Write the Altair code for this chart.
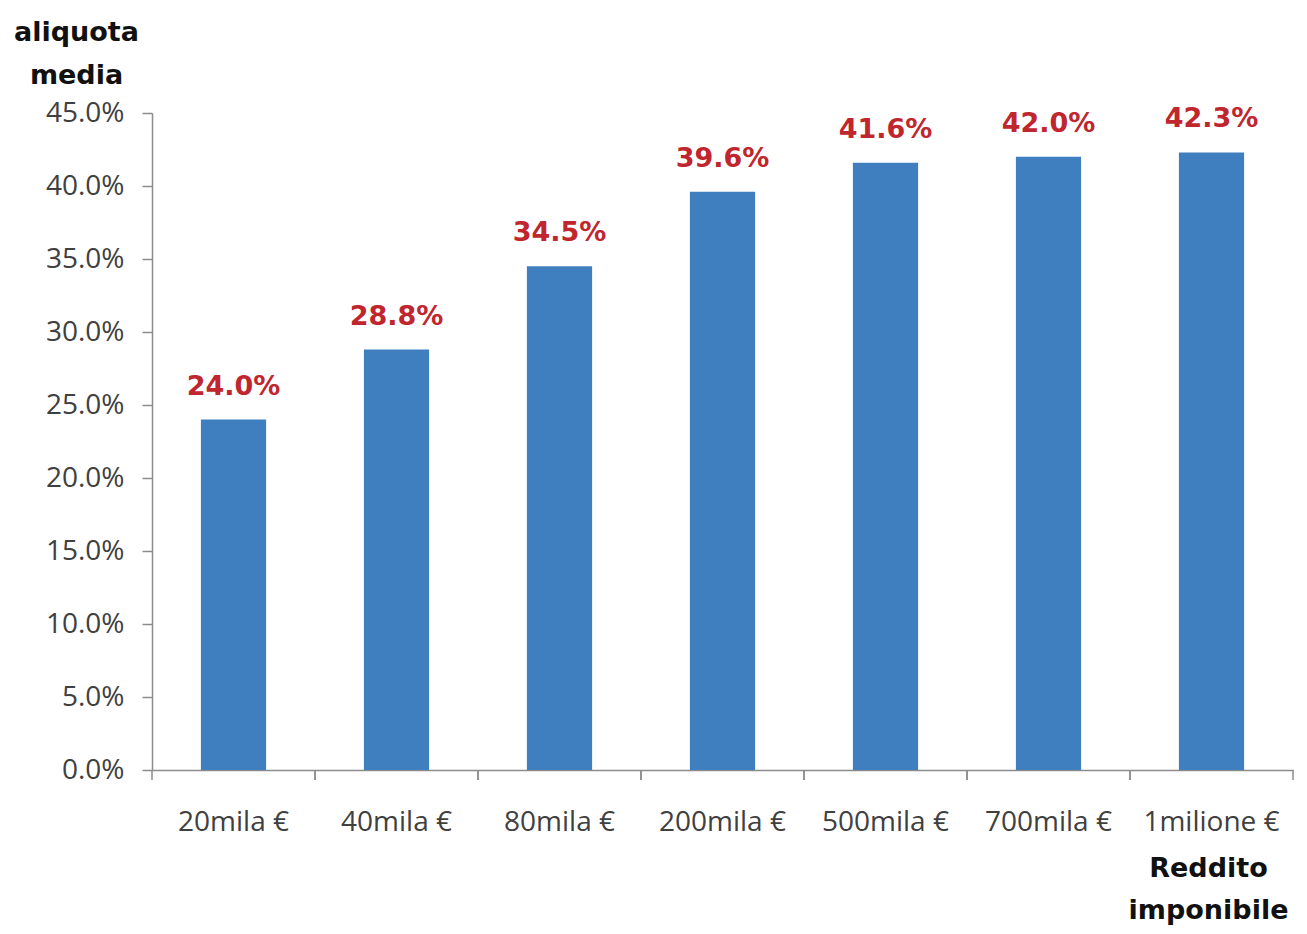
import altair as alt
import pandas as pd

categories = ["20mila €", "40mila €", "80mila €", "200mila €", "500mila €", "700mila €", "1milione €"]
values = [24.0, 28.8, 34.5, 39.6, 41.6, 42.0, 42.3]

df = pd.DataFrame({"cat": categories, "val": values})
df["lbl"] = [f"{v:.1f}%" for v in values]

W, H = 1141, 657
LFONT = "Open Sans"
BFONT = "DejaVu Sans"
GRAY = "#8c8c8c"

xenc = alt.X("cat:N", sort=categories,
             scale=alt.Scale(paddingInner=0.6, paddingOuter=0.3),
             axis=alt.Axis(title=["Reddito", "imponibile"], ticks=False,
                           labelAngle=0, labelFontSize=28, labelColor="#404040",
                           labelFont=LFONT, labelPadding=38,
                           domainColor=GRAY, domainWidth=1.5,
                           titleFont=BFONT, titleFontSize=27, titleFontWeight="bold",
                           titleColor="#111111", titleAngle=0, titleAlign="center",
                           titleBaseline="alphabetic", titleX=1056, titleY=106,
                           titleLineHeight=42))
yenc = alt.Y("val:Q", scale=alt.Scale(domain=[0, 45]),
             axis=alt.Axis(title=["aliquota", "media"], values=list(range(0, 50, 5)),
                           labelExpr="format(datum.value, '.1f') + '%'",
                           grid=False, tickSize=10, tickColor=GRAY,
                           domainColor=GRAY, domainWidth=1.5, tickWidth=1.5,
                           labelFontSize=28, labelColor="#404040", labelFont=LFONT,
                           labelPadding=18,
                           titleFont=BFONT, titleFontSize=27, titleFontWeight="bold",
                           titleColor="#111111", titleAngle=0, titleAlign="center",
                           titleBaseline="alphabetic", titleX=-76, titleY=-73,
                           titleLineHeight=43))

bars = alt.Chart(df).mark_bar(color="#3f7fc0").encode(x=xenc, y=yenc)

text = alt.Chart(df).mark_text(color="#c0262d", fontSize=27, fontWeight="bold",
                               font=BFONT, baseline="alphabetic", dy=-25).encode(
    x=alt.X("cat:N", sort=categories), y="val:Q", text="lbl:N")

tick_scale = alt.Scale(paddingInner=0, paddingOuter=0)
ticks0 = alt.Chart(df).mark_rule(color=GRAY, strokeWidth=1.5).encode(
    x=alt.X("cat:N", sort=categories, bandPosition=0, scale=tick_scale, axis=None),
    y=alt.value(H), y2=alt.value(H + 10))
ticks1 = alt.Chart(df).mark_rule(color=GRAY, strokeWidth=1.5).encode(
    x=alt.X("cat:N", sort=categories, bandPosition=1, scale=tick_scale, axis=None),
    y=alt.value(H), y2=alt.value(H + 10))
ticks = alt.layer(ticks0, ticks1)

chart = alt.layer(alt.layer(bars, text), ticks).resolve_scale(x="independent").properties(
    width=W, height=H,
    autosize=alt.AutoSizeParams(type="none"),
    padding={"left": 144, "top": 105, "right": 6, "bottom": 156},
    background="white",
).configure_view(stroke=None)

chart.save("out.html", embed_options={"renderer": "svg", "actions": False})
